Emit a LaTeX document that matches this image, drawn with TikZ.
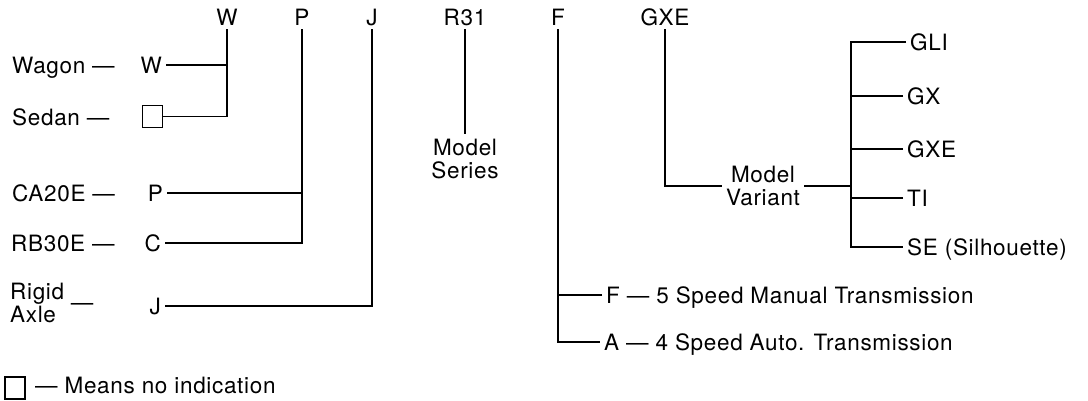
\documentclass[tikz,border=0pt]{standalone}
\usepackage{fontspec}
\setmainfont{TeX Gyre Heros}[LetterSpace=3]
\usetikzlibrary{positioning}

\begin{document}
\begin{tikzpicture}[
    x=0.025cm, y=-0.025cm,
    code/.style={font=\fontsize{16}{17}\selectfont, inner sep=0pt, outer sep=3pt, text height=11.5pt, text depth=0pt},
    multi/.style={font=\fontsize{16}{17}\selectfont, inner sep=0pt, outer sep=3pt, align=center},
    nobox/.style={draw=black, line width=0.8pt, inner sep=0pt, minimum width=0.52cm, minimum height=0.56cm},
    link/.style={draw=black, line width=1.1pt}
]
    \useasboundingbox (0,0) rectangle (1088,401);

    % Code letters along the top
    \node[code] (cW) at (227,17) {W};
    \node[code] (cP) at (302,17) {P};
    \node[code] (cJ) at (372,17) {J};
    \node[code] (cR) at (465,17) {R31};
    \node[code] (cF) at (558,17) {F};
    \node[code] (cG) at (665,17) {GXE};

    % Body type
    \node[code, anchor=west] (wagon) at (8,65) {Wagon \textemdash};
    \node[code, anchor=east] (rW) at (166,65) {W};
    \node[code, anchor=west] (sedan) at (8,117) {Sedan \textemdash};
    \node[nobox] (rS) at (152.5,116.5) {};

    % Engine
    \node[code, anchor=west] (ca) at (8,193) {CA20E \textemdash};
    \node[code, anchor=east] (rP) at (167,193) {P};
    \node[code, anchor=west] (rb) at (7,243) {RB30E \textemdash};
    \node[code, anchor=east] (rC) at (165,243) {C};

    % Axle
    \node[multi, anchor=west, align=left] (rigid) at (6,303) {Rigid\\Axle};
    \node[code] (rdash) at (82,302) {\textemdash};
    \node[code, anchor=east] (rJ) at (165,306) {J};

    % Model series
    \node[multi] (series) at (465,159) {Model\\Series};

    % Transmission
    \node[code, anchor=west] (fman) at (602,295) {F \textemdash{} 5 Speed Manual Transmission};
    \node[code, anchor=west] (fauto) at (600,342) {A \textemdash{} 4 Speed Auto. Transmission};

    % Model variant
    \node[multi] (variant) at (763,186) {Model\\Variant};
    \coordinate (brk) at (851,186);
    \node[code, anchor=west] (gli) at (906,42) {GLI};
    \node[code, anchor=west] (gx) at (903,96) {GX};
    \node[code, anchor=west] (gxe) at (903,149) {GXE};
    \node[code, anchor=west] (ti) at (903,198) {TI};
    \node[code, anchor=west] (se) at (903,247) {SE (Silhouette)};

    % Legend
    \node[nobox, minimum width=0.5cm, minimum height=0.55cm] (legbox) at (15,388) {};
    \node[code, anchor=west] (legend) at (31,385) {\textemdash{} Means no indication};

    % Connections
    \draw[link] (cW) |- (rS);
    \draw[link] (rW) -- (rW -| cW);
    \draw[link] (cP) |- (rC);
    \draw[link] (rP) -- (rP -| cP);
    \draw[link] (cJ) |- (rJ);
    \draw[link] (cR) -- (series);
    \draw[link] (cF) |- (fauto);
    \draw[link] (fman) -- (fman -| cF);
    \draw[link] (cG) |- (variant);
    \draw[link] (variant) -- (brk);
    \draw[link] (gli) -| (brk) |- (se);
    \draw[link] (gx) -- (gx -| brk);
    \draw[link] (gxe) -- (gxe -| brk);
    \draw[link] (ti) -- (ti -| brk);
\end{tikzpicture}
\end{document}
